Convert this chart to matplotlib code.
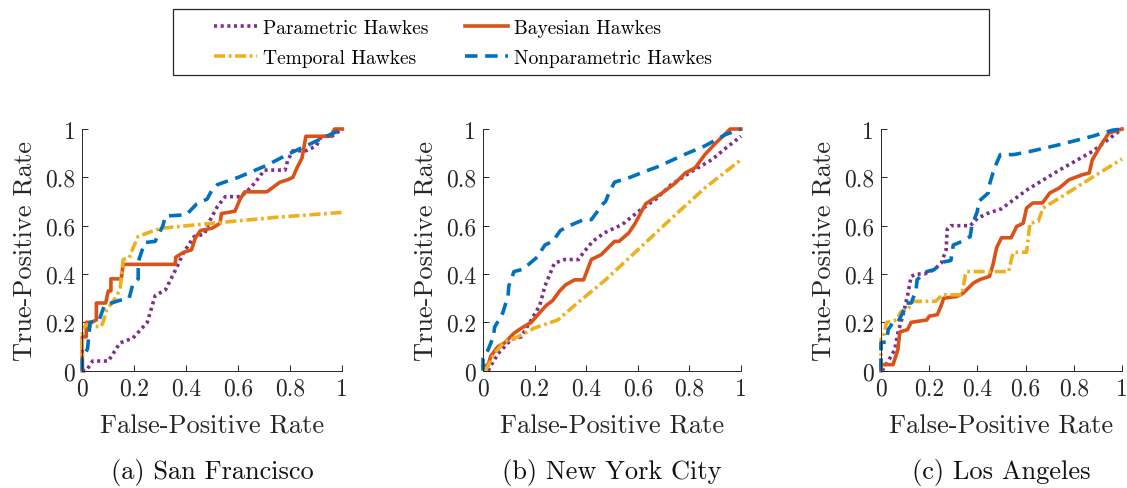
import matplotlib
matplotlib.use('Agg')
import matplotlib.pyplot as plt
from matplotlib.patches import Rectangle

plt.rcParams['font.family'] = 'cmr10'
plt.rcParams['mathtext.fontset'] = 'cm'
plt.rcParams['axes.formatter.use_mathtext'] = True
plt.rcParams['lines.scale_dashes'] = False

# ROC curves
# San Francisco
sf_param_fpr = [0, 0.015, 0.04, 0.1, 0.145, 0.195, 0.25, 0.28, 0.32, 0.36, 0.39, 0.43, 0.47, 0.485, 0.52, 0.55, 0.61, 0.65, 0.68, 0.70, 0.78, 0.79, 0.81, 0.86, 0.90, 0.92, 0.96, 1.0]
sf_param_tpr = [0, 0, 0.04, 0.04, 0.115, 0.135, 0.2, 0.31, 0.335, 0.42, 0.49, 0.555, 0.565, 0.61, 0.68, 0.72, 0.72, 0.76, 0.80, 0.83, 0.83, 0.87, 0.91, 0.91, 0.93, 0.97, 0.97, 1.0]
sf_bayes_fpr = [0, 0, 0.015, 0.015, 0.035, 0.054, 0.054, 0.09, 0.1, 0.11, 0.11, 0.15, 0.157, 0.357, 0.36, 0.39, 0.42, 0.435, 0.455, 0.5, 0.53, 0.535, 0.587, 0.607, 0.625, 0.71, 0.73, 0.76, 0.79, 0.81, 0.826, 0.845, 0.86, 0.955, 0.97, 1.0]
sf_bayes_tpr = [0, 0.14, 0.14, 0.2, 0.2, 0.21, 0.28, 0.28, 0.33, 0.33, 0.38, 0.38, 0.44, 0.44, 0.47, 0.49, 0.5, 0.55, 0.58, 0.59, 0.61, 0.65, 0.66, 0.71, 0.74, 0.74, 0.756, 0.78, 0.79, 0.80, 0.84, 0.88, 0.97, 0.97, 1.0, 1.0]
sf_temp_fpr = [0, 0, 0.015, 0.07, 0.08, 0.093, 0.12, 0.145, 0.157, 0.18, 0.196, 0.215, 0.29, 0.31, 0.5, 0.75, 1.0]
sf_temp_tpr = [0, 0.17, 0.19, 0.18, 0.2, 0.25, 0.29, 0.335, 0.46, 0.466, 0.51, 0.556, 0.585, 0.59, 0.61, 0.635, 0.655]
sf_nonp_fpr = [0, 0, 0.02, 0.03, 0.065, 0.085, 0.14, 0.18, 0.195, 0.215, 0.215, 0.24, 0.28, 0.31, 0.32, 0.40, 0.44, 0.48, 0.5, 0.52, 0.6, 0.71, 0.79, 0.86, 1.0]
sf_nonp_tpr = [0, 0.05, 0.09, 0.2, 0.21, 0.27, 0.29, 0.30, 0.36, 0.38, 0.45, 0.53, 0.535, 0.6, 0.64, 0.645, 0.69, 0.71, 0.75, 0.77, 0.8, 0.85, 0.895, 0.93, 1.0]

# New York City
ny_param_fpr = [0.02, 0.03, 0.058, 0.11, 0.148, 0.187, 0.22, 0.24, 0.277, 0.316, 0.37, 0.39, 0.425, 0.47, 0.54, 0.604, 0.67, 0.73, 0.81, 0.887, 0.94, 1.0]
ny_param_tpr = [0, 0.02, 0.07, 0.13, 0.14, 0.21, 0.27, 0.35, 0.445, 0.46, 0.46, 0.49, 0.535, 0.57, 0.605, 0.66, 0.71, 0.77, 0.825, 0.873, 0.92, 0.97]
ny_bayes_fpr = [0, 0.02, 0.03, 0.058, 0.084, 0.12, 0.15, 0.187, 0.22, 0.245, 0.27, 0.297, 0.32, 0.355, 0.39, 0.42, 0.458, 0.49, 0.51, 0.527, 0.565, 0.59, 0.63, 0.694, 0.745, 0.784, 0.823, 0.86, 0.9, 0.93, 0.958, 1.0]
ny_bayes_tpr = [0.018, 0.025, 0.06, 0.1, 0.115, 0.155, 0.177, 0.2, 0.24, 0.27, 0.29, 0.33, 0.355, 0.376, 0.376, 0.46, 0.48, 0.514, 0.535, 0.535, 0.57, 0.61, 0.69, 0.735, 0.776, 0.818, 0.84, 0.894, 0.94, 0.97, 1.0, 1.0]
ny_temp_fpr = [0.01, 0.045, 0.084, 0.135, 0.2, 0.29, 0.355, 0.475, 0.6, 0.73, 0.86, 1.0]
ny_temp_tpr = [0, 0.073, 0.12, 0.14, 0.177, 0.21, 0.27, 0.376, 0.5, 0.63, 0.756, 0.873]
ny_nonp_fpr = [0, 0, 0.006, 0.02, 0.04, 0.045, 0.077, 0.097, 0.10, 0.12, 0.155, 0.21, 0.24, 0.27, 0.30, 0.335, 0.39, 0.42, 0.465, 0.475, 0.49, 0.51, 0.57, 0.617, 0.68, 0.78, 0.86, 0.94, 1.0]
ny_nonp_tpr = [0, 0.05, 0.06, 0.087, 0.14, 0.18, 0.24, 0.31, 0.35, 0.41, 0.42, 0.47, 0.52, 0.535, 0.58, 0.6, 0.625, 0.625, 0.69, 0.70, 0.74, 0.78, 0.8, 0.82, 0.845, 0.894, 0.93, 0.977, 1.0]

# Los Angeles
la_param_fpr = [0.005, 0.03, 0.057, 0.07, 0.09, 0.11, 0.125, 0.145, 0.18, 0.22, 0.25, 0.27, 0.275, 0.29, 0.37, 0.4, 0.44, 0.5, 0.604, 0.74, 0.877, 1.0]
la_param_tpr = [0, 0.04, 0.087, 0.156, 0.225, 0.31, 0.39, 0.40, 0.40, 0.418, 0.445, 0.5, 0.585, 0.6, 0.6, 0.63, 0.65, 0.67, 0.747, 0.83, 0.907, 1.0]
la_bayes_fpr = [0, 0, 0.05, 0.07, 0.078, 0.11, 0.125, 0.19, 0.2, 0.234, 0.25, 0.26, 0.315, 0.34, 0.384, 0.41, 0.45, 0.465, 0.48, 0.5, 0.54, 0.563, 0.59, 0.604, 0.63, 0.67, 0.7, 0.74, 0.78, 0.836, 0.864, 0.877, 0.918, 0.945, 1.0]
la_bayes_tpr = [0, 0.025, 0.025, 0.087, 0.16, 0.17, 0.2, 0.21, 0.225, 0.232, 0.27, 0.3, 0.307, 0.32, 0.363, 0.377, 0.39, 0.44, 0.51, 0.55, 0.55, 0.597, 0.61, 0.673, 0.694, 0.694, 0.735, 0.756, 0.79, 0.811, 0.818, 0.873, 0.942, 0.983, 1.0]
la_temp_fpr = [0, 0, 0.01, 0.023, 0.045, 0.064, 0.084, 0.11, 0.132, 0.227, 0.254, 0.336, 0.35, 0.356, 0.53, 0.543, 0.55, 0.604, 0.618, 0.652, 0.672, 0.74, 0.877, 1.0]
la_temp_tpr = [0, 0.13, 0.14, 0.2, 0.204, 0.21, 0.245, 0.25, 0.287, 0.287, 0.314, 0.314, 0.397, 0.41, 0.41, 0.47, 0.49, 0.49, 0.61, 0.617, 0.673, 0.714, 0.8, 0.876]
la_nonp_fpr = [0, 0, 0.023, 0.03, 0.05, 0.07, 0.09, 0.105, 0.125, 0.145, 0.15, 0.19, 0.22, 0.26, 0.29, 0.30, 0.336, 0.37, 0.377, 0.4, 0.405, 0.445, 0.45, 0.465, 0.48, 0.495, 0.55, 0.618, 0.74, 0.877, 0.96, 1.0]
la_nonp_tpr = [0, 0.115, 0.12, 0.17, 0.2, 0.2, 0.24, 0.28, 0.28, 0.33, 0.377, 0.41, 0.418, 0.45, 0.456, 0.52, 0.535, 0.555, 0.6, 0.66, 0.70, 0.735, 0.77, 0.82, 0.86, 0.894, 0.894, 0.907, 0.935, 0.97, 0.995, 1.0]

captions = ['(a) San Francisco', '(b) New York City', '(c) Los Angeles']
ticks = [0, 0.2, 0.4, 0.6, 0.8, 1]
tick_labels = ['0', '0.2', '0.4', '0.6', '0.8', '1']

names = ['Parametric Hawkes', 'Bayesian Hawkes', 'Temporal Hawkes', 'Nonparametric Hawkes']
colors = ['#7E2F8E', '#D95319', '#EDB120', '#0072BD']
styles = [(0, (2.2, 2.6)), '-', (0, (8, 2.6, 2, 2.6)), (0, (9, 5.5))]

cities = [
    [(sf_param_fpr, sf_param_tpr), (sf_bayes_fpr, sf_bayes_tpr), (sf_temp_fpr, sf_temp_tpr), (sf_nonp_fpr, sf_nonp_tpr)],
    [(ny_param_fpr, ny_param_tpr), (ny_bayes_fpr, ny_bayes_tpr), (ny_temp_fpr, ny_temp_tpr), (ny_nonp_fpr, ny_nonp_tpr)],
    [(la_param_fpr, la_param_tpr), (la_bayes_fpr, la_bayes_tpr), (la_temp_fpr, la_temp_tpr), (la_nonp_fpr, la_nonp_tpr)],
]

W, H = 1127, 489
fig = plt.figure(figsize=(W / 100, H / 100), dpi=100)
# axes boxes in pixels: left, width
boxes = [(82.3, 260), (483, 258), (881, 241)]
ax_bottom, ax_h = 371.7, 241.7

handles = []
for i, (left, width) in enumerate(boxes):
    ax = fig.add_axes([left / W, (H - ax_bottom) / H, width / W, ax_h / H])
    for j, (fpr, tpr) in enumerate(cities[i]):
        ln, = ax.plot(fpr, tpr, color=colors[j], linestyle=styles[j], lw=2.6,
                      clip_on=False, label=names[j])
        if i == 0:
            handles.append(ln)
    ax.set_xlim(0, 1)
    ax.set_ylim(0, 1)
    ax.set_xticks(ticks)
    ax.set_xticklabels(tick_labels)
    ax.set_yticks(ticks)
    ax.set_yticklabels(tick_labels)
    for s in ['top', 'right']:
        ax.spines[s].set_visible(False)
    for s in ['left', 'bottom']:
        ax.spines[s].set_color('#262626')
        ax.spines[s].set_linewidth(0.7)
    ax.tick_params(direction='in', length=4, width=0.7, color='#262626',
                   labelcolor='#262626', labelsize=17, pad=5)
    ax.set_xlabel('False-Positive Rate', fontsize=19, color='#262626', labelpad=10)
    ax.set_ylabel('True-Positive Rate', fontsize=19, color='#262626', labelpad=6)
    ax.text(0.5, -0.415, captions[i], transform=ax.transAxes, ha='center',
            va='center', fontsize=19, color='#111111')

# legend box
fig.patches.append(Rectangle((173 / W, 1 - 76 / H), 816 / W, 66 / H,
                             transform=fig.transFigure, fill=False,
                             edgecolor='#262626', lw=0.9))
order = [0, 2, 1, 3]
fig.legend([handles[k] for k in order], [names[k] for k in order], ncol=2,
           loc='upper left', bbox_to_anchor=(214 / W, 1 - 20 / H),
           frameon=False, fontsize=14, handlelength=2.2, handletextpad=0.31,
           columnspacing=1.9, labelspacing=0.62, borderpad=0, borderaxespad=0)

fig.savefig('out.png', dpi=100)
